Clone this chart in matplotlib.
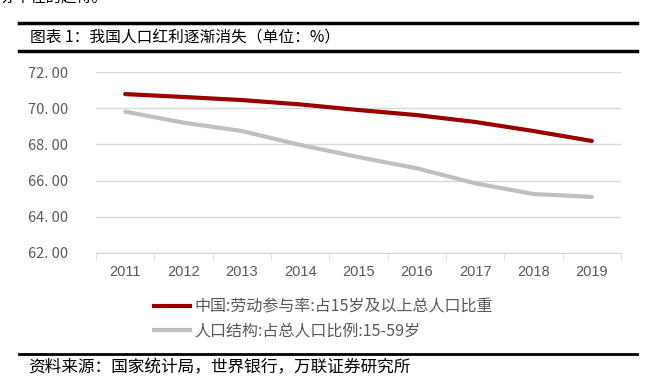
import matplotlib.pyplot as plt
from matplotlib.lines import Line2D

plt.rcParams['font.family'] = ['Noto Sans CJK SC', 'DejaVu Sans']

years = ['2011', '2012', '2013', '2014', '2015', '2016', '2017', '2018', '2019']
labor_rate = [70.78, 70.62, 70.45, 70.21, 69.90, 69.62, 69.24, 68.74, 68.19]
share_15_59 = [69.81, 69.20, 68.74, 67.97, 67.30, 66.68, 65.85, 65.26, 65.10]
yticks = [62, 64, 66, 68, 70, 72]

label_labor = '中国:劳动参与率:占15岁及以上总人口比重'
label_share = '人口结构:占总人口比例:15-59岁'
title = '图表 1：我国人口红利逐渐消失（单位：%）'
source = '资料来源：国家统计局，世界银行，万联证券研究所'

red = '#9B0000'
gray = '#BFBFBF'
W, H = 657, 381

fig = plt.figure(figsize=(W / 100, H / 100), dpi=100)
ax = fig.add_axes([96 / W, 1 - 253 / H, (621 - 96) / W, (253 - 72) / H])

x = range(len(years))
ax.plot(x, labor_rate, color=red, lw=3, solid_capstyle='round', zorder=3)
ax.plot(x, share_15_59, color=gray, lw=3, solid_capstyle='round', zorder=3)

ax.set_xlim(-0.5, len(years) - 0.5)
ax.set_ylim(62, 72)
ax.set_yticks(yticks)
ax.set_yticklabels([f'{v}. 00' for v in yticks], color='#595959', fontsize=10.5)
ax.yaxis.grid(True, color='#D9D9D9', lw=1)
ax.set_axisbelow(True)
ax.tick_params(axis='y', length=0, pad=20)

ax.set_xticks(list(x))
ax.set_xticklabels(years, color='#595959', fontsize=10.5, family='Liberation Sans')
ax.set_xticks([i - 0.5 for i in range(len(years) + 1)], minor=True)
ax.tick_params(axis='x', which='major', length=0, pad=9)
ax.tick_params(axis='x', which='minor', length=5, color='#D9D9D9')
for s in ['top', 'right', 'left']:
    ax.spines[s].set_visible(False)
ax.spines['bottom'].set_color('#D9D9D9')

handles = [Line2D([], [], color=red, lw=3), Line2D([], [], color=gray, lw=3)]
fig.legend(handles, [label_labor, label_share], loc='upper left',
           bbox_to_anchor=(140 / W, 1 - 284 / H), frameon=False,
           fontsize=11.5, labelcolor='#595959', handlelength=2.2,
           handletextpad=0.3, labelspacing=0.45)

# header and footer rules
for yy, lw in [(22.5, 2.5), (50.5, 2.5), (354, 2)]:
    fig.add_artist(Line2D([19 / W, 637 / W], [1 - yy / H] * 2, color='black', lw=lw))

fig.text(30 / W, 1 - 37 / H, title, fontsize=11.3, va='center', color='black')
fig.text(28 / W, 1 - 368 / H, source, fontsize=12, va='center', style='italic', color='black')
fig.text(0, 1 + 3 / H, '亦不住的趋待。', fontsize=11, va='center', color='black')

fig.savefig('out.png', dpi=100)
